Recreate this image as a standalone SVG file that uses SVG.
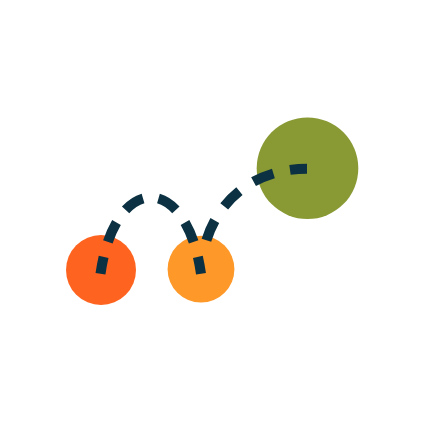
<svg xmlns="http://www.w3.org/2000/svg" width="425" height="425" viewBox="0 0 425 425">
<style>
.link{fill:none;stroke:#0B3142;stroke-width:10;stroke-linecap:butt}
</style>
<rect width="425" height="425" fill="#ffffff"/>
<g id="node-red"><circle cx="101" cy="270" r="35" fill="#FE6420"/></g>
<g id="node-orange"><circle cx="201" cy="269.2" r="33.4" fill="#FD9829"/></g>
<g id="node-green"><circle cx="307.5" cy="168.2" r="50.8" fill="#899A34"/></g>
<g id="connectors">
<path class="link" d="M100.5,273.8 C115,172 186.5,172 201,273.8" pathLength="195.5" stroke-dasharray="21 15.5" stroke-dashoffset="4"/>
<path class="link" d="M201,273.8 C202.5,213 245,168.7 307,168.7" pathLength="166.5" stroke-dasharray="0 34 21.5 17 21.5 17 21.5 17 21.5"/>
</g>
</svg>
